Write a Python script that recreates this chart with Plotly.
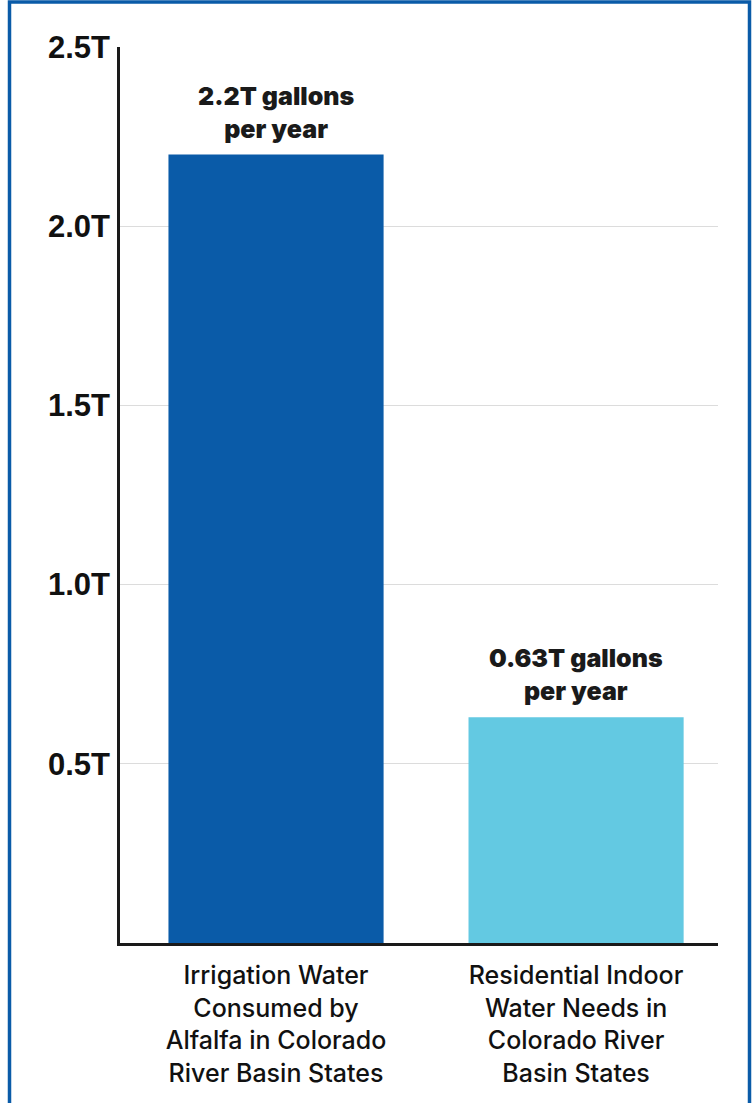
import plotly.graph_objects as go

categories = [
    "Irrigation Water<br>Consumed by<br>Alfalfa in Colorado<br>River Basin States",
    "Residential Indoor<br>Water Needs in<br>Colorado River<br>Basin States",
]
values_t = [2.2, 0.63]
value_labels = ["2.2T gallons<br>per year", "0.63T gallons<br>per year"]
bar_colors = ["#0A5BA8", "#63C9E2"]
tick_vals = [0.5, 1.0, 1.5, 2.0, 2.5]
tick_text = ["0.5T", "1.0T", "1.5T", "2.0T", "2.5T"]

W, H = 755, 1103
L, R, T, B = 120, 37, 47, 160
pw = W - L - R
ph = H - T - B

x_pos = list(range(len(categories)))

fig = go.Figure()
fig.add_trace(go.Bar(
    x=x_pos, y=values_t, width=0.717,
    marker=dict(color=bar_colors, line=dict(width=0)),
    hoverinfo="skip",
))

for xi, v, lab in zip(x_pos, values_t, value_labels):
    fig.add_annotation(
        x=xi, y=v, xref="x", yref="y", text=lab, showarrow=False,
        yanchor="bottom", yshift=9,
        font=dict(family="Inter", size=25, color="#1a1a1a", weight=900),
        align="center",
    )

def px_to_paper_x(px):
    return (px - L) / pw

def px_to_paper_y(py):
    return (H - B - py) / ph

border = "#0A5BA8"
fig.add_shape(type="rect", xref="paper", yref="paper",
              x0=px_to_paper_x(9.5), x1=px_to_paper_x(749.5),
              y0=px_to_paper_y(1120), y1=px_to_paper_y(2),
              line=dict(color=border, width=3.5), fillcolor="rgba(0,0,0,0)",
              layer="above")

fig.update_layout(
    width=W, height=H,
    margin=dict(l=L, r=R, t=T, b=B, pad=0),
    plot_bgcolor="white", paper_bgcolor="white",
    showlegend=False,
    font=dict(family="Inter", color="#1a1a1a"),
    xaxis=dict(
        range=[-0.52, 1.473], tickmode="array", tickvals=x_pos, ticktext=categories,
        showgrid=False, zeroline=False, showline=True, linecolor="#1a1a1a", linewidth=3,
        ticks="", tickfont=dict(family="Inter", size=25, color="#111111", weight=500),
        ticklabelstandoff=8,
    ),
    yaxis=dict(
        range=[0, 2.5], tickmode="array", tickvals=tick_vals, ticktext=tick_text,
        showgrid=True, gridcolor="#dcdcdc", gridwidth=1, zeroline=False,
        showline=True, linecolor="#1a1a1a", linewidth=2.5, ticks="",
        tickfont=dict(family="Liberation Sans", size=31, color="#111111", weight="bold"),
        ticklabelstandoff=1,
    ),
)

fig.write_html("out.html")
